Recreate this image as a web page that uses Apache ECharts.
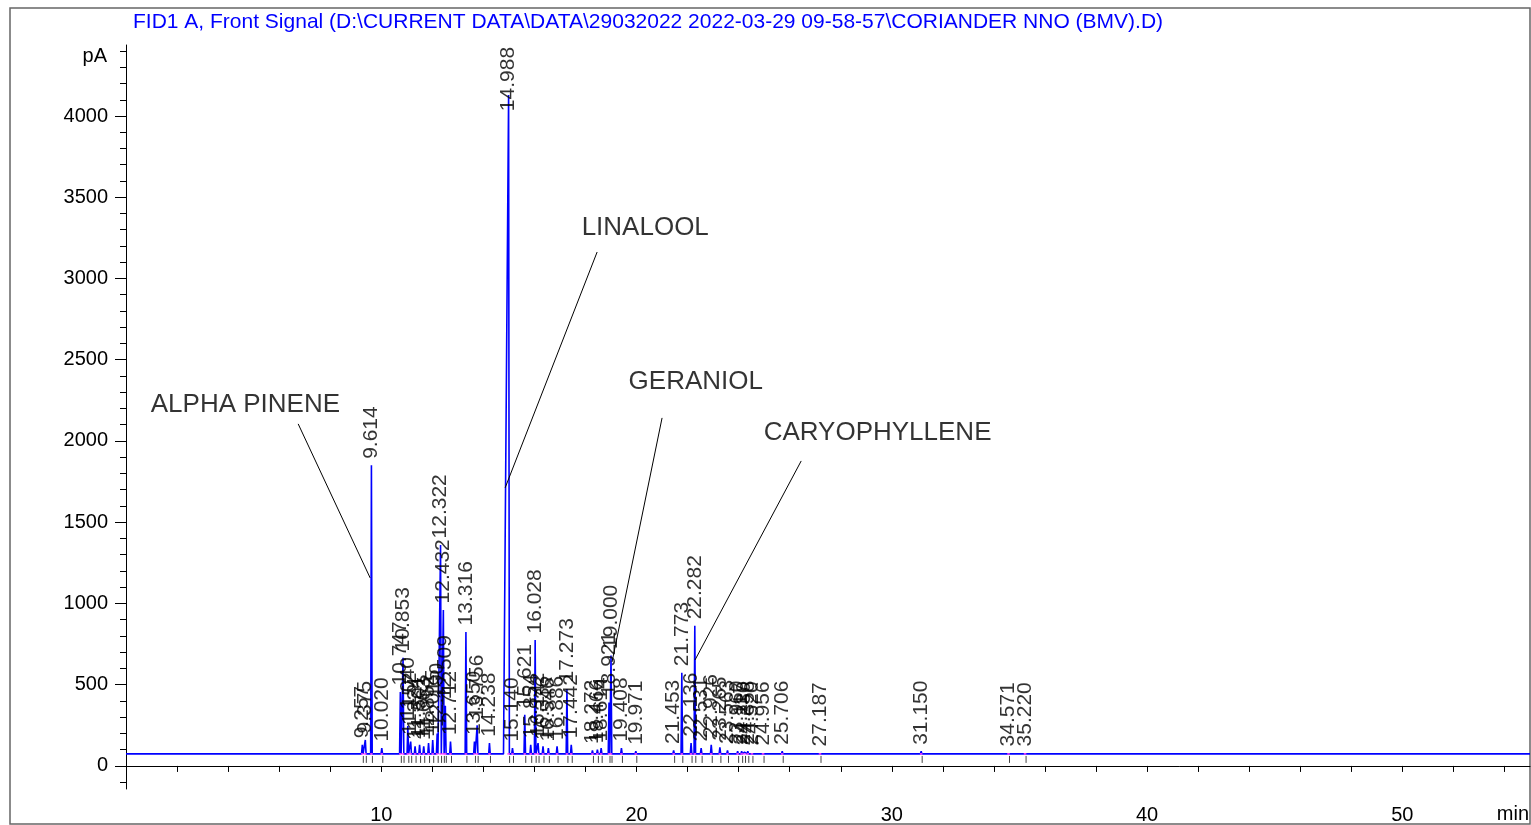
<!DOCTYPE html>
<html>
<head>
<meta charset="utf-8">
<title>FID1 A chromatogram</title>
<script src="https://cdn.jsdelivr.net/npm/echarts@6/dist/echarts.min.js"></script>
<style>
  html, body { margin: 0; padding: 0; background: #fff; }
  #chart { width: 1531px; height: 825px; }
</style>
</head>
<body>
<div id="chart"></div>
<script>
  // retention times (min) and apex signal (pA)
  var peakTimes = [9.257, 9.375, 9.614, 10.020, 10.747, 10.853, 11.040, 11.152, 11.324, 11.501,
    11.663, 11.852, 12.015, 12.190, 12.322, 12.432, 12.509, 12.712, 13.316, 13.650,
    13.756, 14.238, 14.988, 15.140, 15.621, 15.854, 16.028, 16.142, 16.336, 16.546,
    16.886, 17.273, 17.442, 18.272, 18.466, 18.614, 18.921, 19.000, 19.408, 19.971,
    21.453, 21.773, 22.136, 22.282, 22.531, 22.926, 23.265, 23.563, 23.960, 24.117,
    24.230, 24.358, 24.520, 24.956, 25.706, 27.187, 31.150, 34.571, 35.220]
  var peakHeights = [130, 160, 1850, 110, 455, 665, 245, 150, 120, 130,
    120, 140, 160, 200, 1360, 960, 370, 150, 825, 150,
    250, 140, 4130, 110, 315, 130, 775, 140, 120, 110,
    120, 474, 130, 95, 100, 110, 390, 680, 110, 90,
    95, 574, 140, 862, 110, 130, 115, 95, 90, 90,
    85, 90, 85, 85, 90, 80, 90, 80, 80]
  var baselineLevel = 74

  var compoundNames = ['ALPHA PINENE', 'LINALOOL', 'GERANIOL', 'CARYOPHYLLENE']
  // text anchor [min, pA] and leader line from / to
  var compoundText = [[0.95, 2222], [17.83, 3311], [19.67, 2363], [24.96, 2049]]
  var leaderFrom = [[6.745, 2105], [18.456, 3163], [21.0, 2142], [26.45, 1877]]
  var leaderTo = [[9.565, 1157], [14.853, 1712], [19.04, 640], [22.29, 652]]

  var xLabels = [10, 20, 30, 40, 50]
  var yLabels = [0, 500, 1000, 1500, 2000, 2500, 3000, 3500, 4000]

  var font = "'Liberation Sans', Arial, sans-serif"
  var halfWidth = 0.03
  var mainPeakFront = 0.2
  var labelCap = 3990

  // build the detector trace from the peak table
  var trace = [[0, baselineLevel]]
  var mainIdx = peakHeights.indexOf(Math.max.apply(null, peakHeights))
  peakTimes.forEach(function (t, i) {
    var left = i === mainIdx ? mainPeakFront : halfWidth
    trace.push([t - left, baselineLevel], [t, peakHeights[i]], [t + halfWidth, baselineLevel])
  })
  trace.push([55, baselineLevel])

  var xTicks = []
  for (var v = 0; v <= 54; v += 2) xTicks.push(v)
  var yMinor = []
  for (var w = -100; w <= 4400; w += 100) yMinor.push(w)

  var chart = echarts.init(document.getElementById('chart'))
  var option = {
    animation: false,
    title: {
      text: 'FID1 A, Front Signal (D:\\CURRENT DATA\\DATA\\29032022 2022-03-29 09-58-57\\CORIANDER NNO (BMV).D)',
      left: 133,
      top: 12,
      padding: 0,
      textStyle: { color: '#0000ff', fontSize: 21, fontWeight: 'normal', fontFamily: font }
    },
    graphic: [
      {
        type: 'rect',
        shape: { x: 10, y: 8, width: 1520, height: 816 },
        style: { fill: 'none', stroke: '#666', lineWidth: 1.5 },
        silent: true
      },
      {
        type: 'text',
        right: 1424,
        top: 46,
        style: { text: 'pA', font: '20px ' + font, fill: '#000' }
      },
      {
        type: 'text',
        right: 2,
        top: 804,
        style: { text: 'min', font: '20px ' + font, fill: '#000' }
      }
    ],
    grid: { left: 126, right: 1, top: 45, bottom: 36 },
    xAxis: {
      type: 'value',
      min: 0,
      max: 55,
      axisLine: { lineStyle: { color: '#000', width: 1 } },
      axisTick: { customValues: xTicks, length: 6, lineStyle: { color: '#000' } },
      axisLabel: { customValues: xLabels, fontSize: 20, color: '#000', margin: 16, fontFamily: font },
      splitLine: { show: false }
    },
    yAxis: [
      {
        type: 'value',
        min: -142,
        max: 4437,
        axisLine: { show: true, lineStyle: { color: '#000', width: 1 } },
        axisTick: { show: true, customValues: yLabels, length: 11, lineStyle: { color: '#000' } },
        axisLabel: {
          customValues: yLabels, fontSize: 20, color: '#000', margin: 18, fontFamily: font,
          formatter: function (val) { return String(val) }
        },
        splitLine: { show: false }
      },
      {
        type: 'value',
        min: -142,
        max: 4437,
        position: 'left',
        axisLine: { show: false },
        axisTick: { show: true, customValues: yMinor, length: 6, lineStyle: { color: '#000' } },
        axisLabel: { show: false },
        splitLine: { show: false }
      }
    ],
    series: [
      {
        name: 'FID1 A',
        type: 'line',
        data: trace,
        showSymbol: false,
        lineStyle: { color: '#0000ff', width: 1.6 },
        z: 3
      },
      {
        // integration baselines
        type: 'custom',
        data: peakTimes.map(function (t) { return [t, baselineLevel] }),
        renderItem: function (params, api) {
          var a = api.coord([api.value(0) - 0.05, api.value(1)])
          var b = api.coord([api.value(0) + 0.05, api.value(1)])
          return { type: 'line', shape: { x1: a[0], y1: a[1], x2: b[0], y2: b[1] }, style: { stroke: '#ff40ff', lineWidth: 1.5 } }
        },
        z: 4,
        silent: true
      },
      {
        // retention time marks under the baseline
        type: 'custom',
        data: peakTimes.map(function (t) { return [t, baselineLevel] }),
        renderItem: function (params, api) {
          var p = api.coord([api.value(0), api.value(1)])
          return { type: 'line', shape: { x1: p[0] + 1, y1: p[1] + 2, x2: p[0] + 1, y2: p[1] + 9 }, style: { stroke: '#444', lineWidth: 1 } }
        },
        silent: true
      },
      {
        // retention time labels
        type: 'scatter',
        data: peakTimes.map(function (t, i) { return [t, Math.min(peakHeights[i], labelCap)] }),
        symbolSize: 1,
        itemStyle: { color: 'rgba(0,0,0,0)' },
        label: {
          show: true,
          position: 'top',
          distance: 6,
          rotate: 90,
          align: 'left',
          verticalAlign: 'middle',
          fontSize: 21,
          color: '#000',
          fontFamily: font,
          formatter: function (p) { return p.value[0].toFixed(3) }
        },
        silent: true,
        z: 5
      },
      {
        // compound annotations
        type: 'scatter',
        data: compoundText.map(function (c, i) { return [c[0], c[1], compoundNames[i]] }),
        symbolSize: 1,
        itemStyle: { color: 'rgba(0,0,0,0)' },
        label: {
          show: true,
          position: 'right',
          distance: 0,
          fontSize: 26,
          color: '#000',
          fontFamily: font,
          formatter: function (p) { return p.value[2] }
        },
        markLine: {
          silent: true,
          symbol: ['none', 'none'],
          label: { show: false },
          lineStyle: { color: '#000', width: 1, type: 'solid' },
          data: leaderFrom.map(function (f, i) { return [{ coord: f }, { coord: leaderTo[i] }] })
        },
        silent: true,
        z: 5
      }
    ]
  }
  chart.setOption(option)
</script>
</body>
</html>
